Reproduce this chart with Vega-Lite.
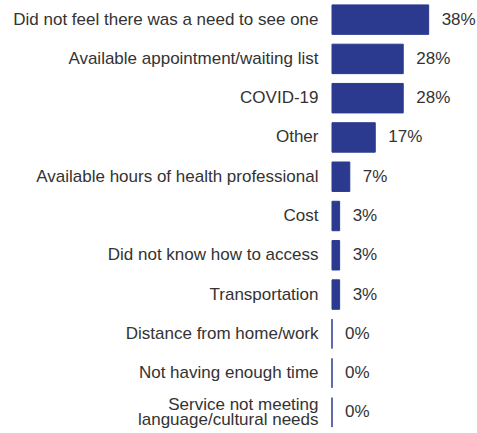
{
  "$schema": "https://vega.github.io/schema/vega-lite/v6.json",
  "autosize": {"type": "none"},
  "width": 145,
  "height": 432,
  "padding": {"left": 332, "top": 0, "right": 0, "bottom": 1},
  "background": "white",
  "config": {"view": {"stroke": null}, "font": "Liberation Sans"},
  "data": {"values": [
    {"reason": "Did not feel there was a need to see one", "value": 0.38},
    {"reason": "Available appointment/waiting list", "value": 0.28},
    {"reason": "COVID-19", "value": 0.28},
    {"reason": "Other", "value": 0.17},
    {"reason": "Available hours of health professional", "value": 0.07},
    {"reason": "Cost", "value": 0.03},
    {"reason": "Did not know how to access", "value": 0.03},
    {"reason": "Transportation", "value": 0.03},
    {"reason": "Distance from home/work", "value": 0.0},
    {"reason": "Not having enough time", "value": 0.0},
    {"reason": "Service not meeting language/cultural needs", "value": 0.0}
  ]},
  "encoding": {
    "y": {
      "field": "reason", "type": "nominal", "sort": null,
      "scale": {"paddingInner": 0.25, "paddingOuter": 0.125},
      "axis": {
        "title": null, "domain": false, "ticks": false,
        "labelPadding": 14, "labelFontSize": 17, "labelColor": "#333333",
        "labelLimit": 0, "labelLineHeight": 15,
        "labelOffset": {"condition": {"test": "datum.value == 'Service not meeting language/cultural needs'", "value": -7}, "value": 0},
        "labelExpr": "datum.label == 'Service not meeting language/cultural needs' ? ['Service not meeting', 'language/cultural needs'] : datum.label"
      }
    },
    "x": {
      "field": "value", "type": "quantitative",
      "scale": {"domain": [0, 0.57], "nice": false, "zero": true},
      "axis": null
    }
  },
  "layer": [
    {"mark": {"type": "bar", "color": "#2b3a8f", "stroke": "#2b3a8f", "strokeWidth": 1}},
    {"mark": {"type": "text", "align": "left", "baseline": "middle", "dx": 13, "fontSize": 17, "color": "#333333"},
     "encoding": {"text": {"field": "value", "type": "quantitative", "format": ".0%"}}}
  ]
}
